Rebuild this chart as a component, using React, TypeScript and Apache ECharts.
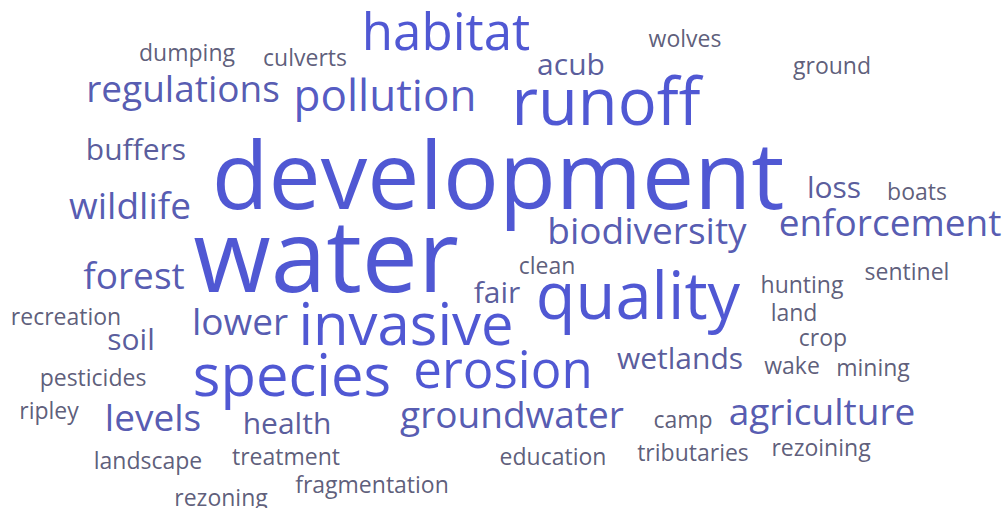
import React, { useEffect, useRef } from "react";
import * as echarts from "echarts";

// Words and their relative frequencies (counts)
const words = [
  "development", "water", "runoff", "quality", "species", "invasive", "habitat", "erosion",
  "pollution", "regulations", "enforcement", "biodiversity", "groundwater", "agriculture",
  "wildlife", "forest", "levels", "lower", "wetlands", "health", "buffers", "loss", "acub",
  "fair", "soil", "dumping", "culverts", "wolves", "ground", "boats", "clean", "hunting",
  "sentinel", "recreation", "land", "crop", "wake", "mining", "pesticides", "ripley", "camp",
  "landscape", "treatment", "education", "tributaries", "rezoining", "rezoning", "fragmentation",
];
const counts = [
  11, 12, 7, 7, 6, 6, 5, 5,
  4, 3, 3, 3, 3, 3,
  3, 3, 3, 3, 2, 2, 2, 2, 2,
  2, 2, 1, 1, 1, 1, 1, 1, 1,
  1, 1, 1, 1, 1, 1, 1, 1, 1,
  1, 1, 1, 1, 1, 1, 1,
];
// Cloud layout: horizontal centre and baseline of each word (px in the 1005x508 canvas)
const layoutX = [
  498, 326, 606, 638, 292, 406, 446, 503,
  385, 183, 890, 647, 512, 822,
  130, 134, 153, 240, 680, 287, 136, 834, 571,
  497, 131, 187, 305, 685, 832, 917, 547, 802,
  907, 66, 794, 823, 792, 873, 93, 49, 683,
  148, 286, 553, 693, 821, 221, 372,
];
const layoutY = [
  206, 289, 123, 317, 394, 343, 48, 386,
  110, 101, 235, 243, 427, 424,
  218, 288, 430, 334, 368, 433, 159, 197, 74,
  302, 349, 60, 65, 46, 73, 199, 273, 292,
  279, 324, 320, 345, 373, 375, 385, 418, 427,
  468, 464, 464, 460, 455, 505, 492,
];

const W = 1005;
const H = 508;

function fontSizeFor(c: number) {
  return 16 + 7 * c;
}

function colorFor(c: number) {
  const small = [52, 52, 88];
  const big = [36, 46, 200];
  const t = Math.min(1, Math.max(0, (c - 1) / 4));
  const k = Math.pow(t, 0.7);
  const rgb = small.map((s, i) => Math.round(s + (big[i] - s) * k));
  return `rgb(${rgb[0]},${rgb[1]},${rgb[2]})`;
}

export default function App() {
  const ref = useRef<HTMLDivElement>(null);
  useEffect(() => {
    if (!ref.current) return;
    const chart = echarts.init(ref.current, undefined, { renderer: "svg" });
    const data = words.map((w, i) => {
      const fs = fontSizeFor(counts[i]);
      return {
        name: w,
        value: [layoutX[i], layoutY[i], counts[i]],
        label: {
          show: true,
          formatter: w,
          fontSize: fs,
          color: colorFor(counts[i]),
          offset: [0, -0.36 * fs],
        },
      };
    });
    chart.setOption({
      animation: false,
      backgroundColor: "#ffffff",
      grid: { left: 0, right: 0, top: 0, bottom: 0 },
      xAxis: { type: "value", min: 0, max: W, show: false },
      yAxis: { type: "value", min: 0, max: H, inverse: true, show: false },
      series: [
        {
          type: "scatter",
          symbolSize: 0,
          silent: true,
          clip: false,
          label: {
            show: true,
            position: "inside",
            align: "center",
            verticalAlign: "middle",
            fontFamily: "Open Sans",
            fontWeight: 500,
          },
          data,
        },
      ],
    });
    return () => chart.dispose();
  }, []);
  return (
    <div
      ref={ref}
      style={{ position: "fixed", left: 0, top: 0, width: W, height: H, background: "#fff" }}
    />
  );
}
